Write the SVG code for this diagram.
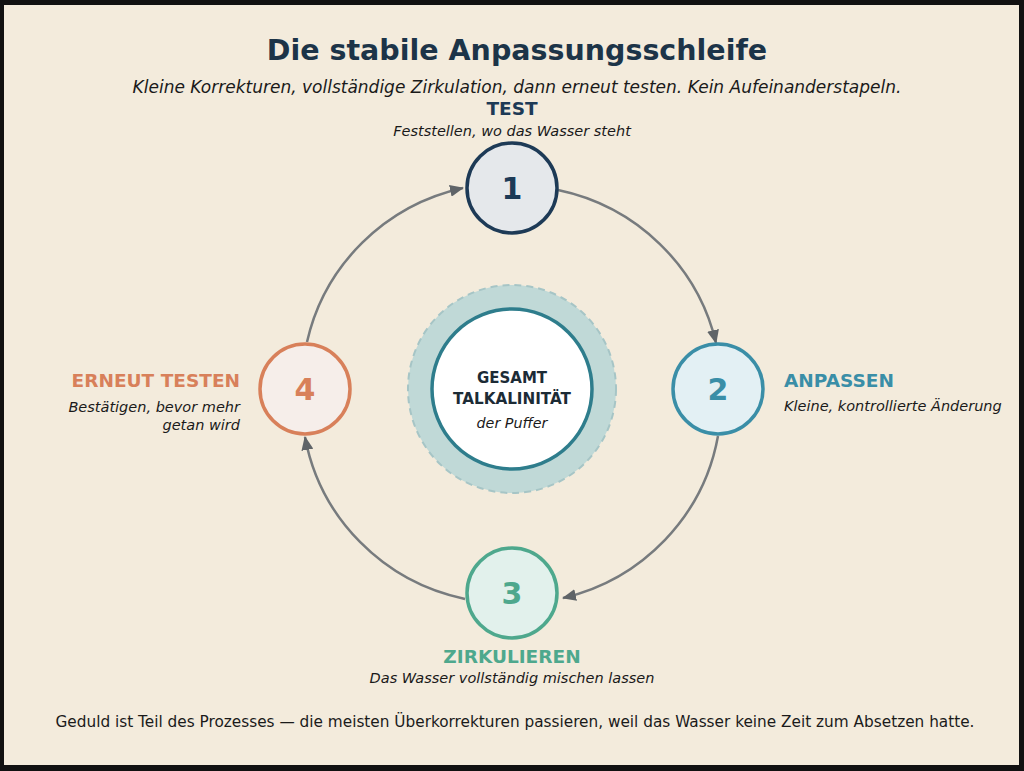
<svg xmlns="http://www.w3.org/2000/svg" width="1024" height="771" viewBox="0 0 1024 771">
<defs>
<marker id="ah" viewBox="0 0 14 12" refX="13" refY="6" markerWidth="14" markerHeight="12" markerUnits="userSpaceOnUse" orient="auto">
<path d="M0,0 L14,6 L0,12 z" fill="#5f6468"/>
</marker>
<style>
.t{font-family:"DejaVu Sans","Liberation Sans",sans-serif}
.title{font-size:28.5px;font-weight:bold;fill:#1c3448;text-anchor:middle}
.sub{font-size:17px;font-style:italic;fill:#1a1a1a;text-anchor:middle}
.lbl{font-size:18.5px;font-weight:bold}
.desc{font-size:14.5px;font-style:italic;fill:#1a1a1a}
.num{font-size:30px;font-weight:bold;text-anchor:middle}
.arc{fill:none;stroke:#777b7e;stroke-width:2.5;marker-end:url(#ah)}
</style>
</defs>
<rect x="0" y="0" width="1024" height="771" fill="#111"/>
<rect x="4" y="5" width="1015" height="760" fill="#f3ebdc"/>

<text class="t title" x="517" y="60">Die stabile Anpassungsschleife</text>
<text class="t sub" x="517" y="93">Kleine Korrekturen, vollständige Zirkulation, dann erneut testen. Kein Aufeinanderstapeln.</text>

<g id="connectors">
<path class="arc" d="M558,190 A206,203 0 0 1 716,343"/>
<path class="arc" d="M718,436 A206,203 0 0 1 563,598"/>
<path class="arc" d="M465,599 A206,203 0 0 1 305,437"/>
<path class="arc" d="M307,342 A206,203 0 0 1 463,188"/>
</g>

<g id="center">
<circle cx="512" cy="389" r="104" fill="#c0d9d7" stroke="#a6c5c6" stroke-width="2" stroke-dasharray="7,5"/>
<circle cx="512" cy="389" r="80" fill="#ffffff" stroke="#2e7d8c" stroke-width="3.5"/>
<text class="t lbl" x="512" y="383" text-anchor="middle" fill="#1c2b36" style="font-size:15px">GESAMT</text>
<text class="t lbl" x="512" y="404" text-anchor="middle" fill="#1c2b36" style="font-size:15.2px">TALKALINITÄT</text>
<text class="t desc" x="512" y="428" text-anchor="middle" style="font-size:14.3px">der Puffer</text>
</g>

<g id="node1">
<circle cx="512" cy="188" r="45" fill="#e5e8eb" stroke="#1d3a56" stroke-width="3.5"/>
<text class="t num" x="512" y="199" fill="#1d3a56">1</text>
<text class="t lbl" x="512" y="115" text-anchor="middle" fill="#1d3a56">TEST</text>
<text class="t desc" x="512" y="136" text-anchor="middle">Feststellen, wo das Wasser steht</text>
</g>

<g id="node2">
<circle cx="718" cy="389" r="45" fill="#e3f0f4" stroke="#3a8ea7" stroke-width="3.5"/>
<text class="t num" x="718" y="400" fill="#3a8ea7">2</text>
<text class="t lbl" x="784" y="387" fill="#3a8ea7">ANPASSEN</text>
<text class="t desc" x="784" y="411">Kleine, kontrollierte Änderung</text>
</g>

<g id="node3">
<circle cx="512" cy="593" r="45" fill="#e2f1ec" stroke="#4ea88d" stroke-width="3.5"/>
<text class="t num" x="512" y="604" fill="#4ea88d">3</text>
<text class="t lbl" x="512" y="663" text-anchor="middle" fill="#4ea88d">ZIRKULIEREN</text>
<text class="t desc" x="512" y="683" text-anchor="middle">Das Wasser vollständig mischen lassen</text>
</g>

<g id="node4">
<circle cx="305" cy="389" r="45" fill="#f6eeea" stroke="#d8805a" stroke-width="3.5"/>
<text class="t num" x="305" y="400" fill="#d8805a">4</text>
<text class="t lbl" x="240" y="387" text-anchor="end" fill="#d8805a">ERNEUT TESTEN</text>
<text class="t desc" x="240" y="412" text-anchor="end">Bestätigen, bevor mehr</text>
<text class="t desc" x="240" y="430" text-anchor="end">getan wird</text>
</g>

<text class="t" x="515" y="727" text-anchor="middle" style="font-size:15.3px" fill="#1a1a1a">Geduld ist Teil des Prozesses — die meisten Überkorrekturen passieren, weil das Wasser keine Zeit zum Absetzen hatte.</text>
</svg>
